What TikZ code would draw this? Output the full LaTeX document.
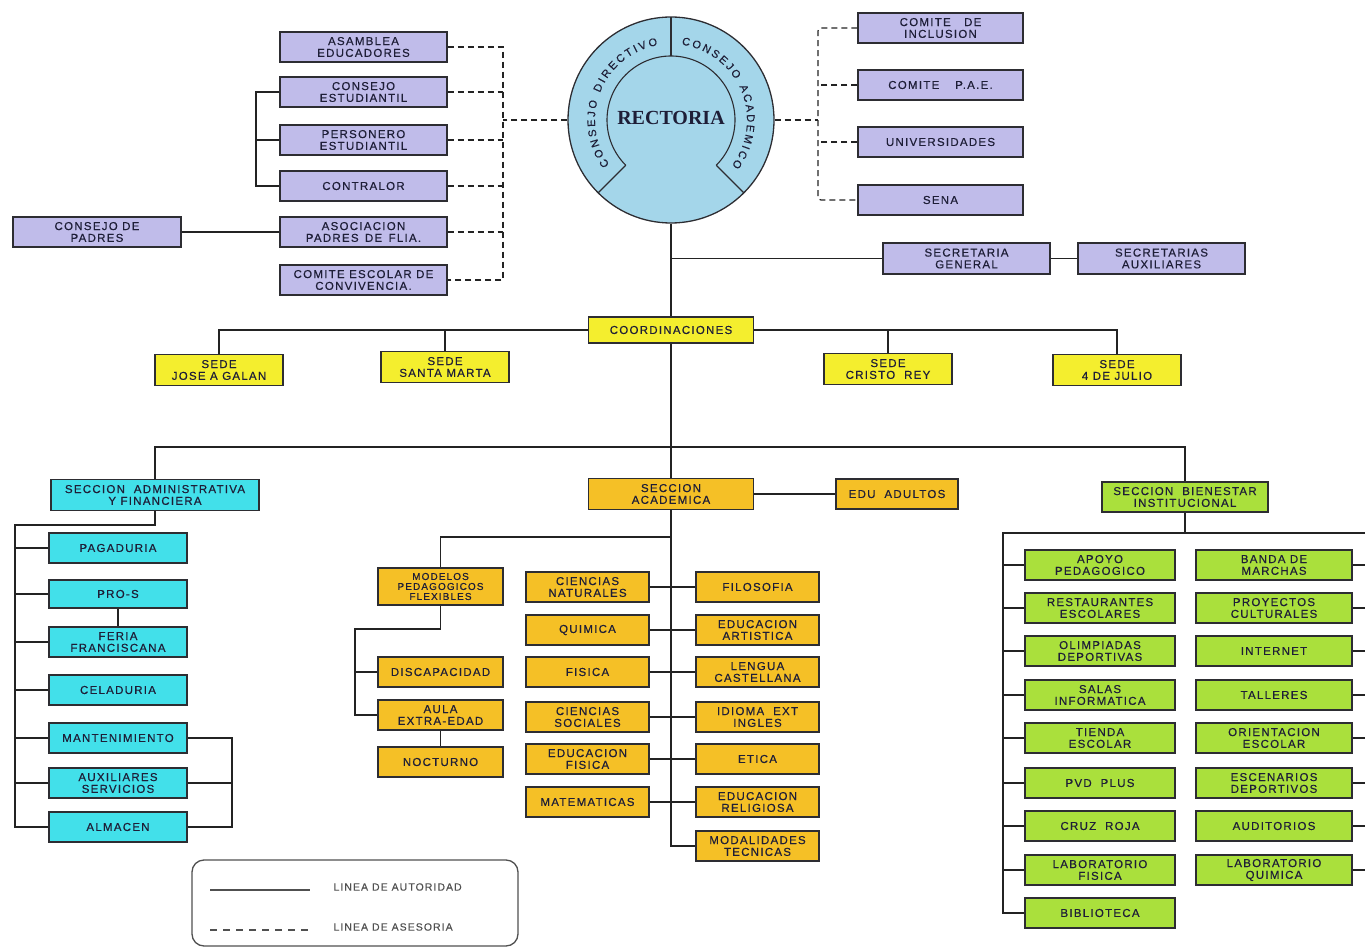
\documentclass[tikz,border=0pt]{standalone}
\usepackage{fontspec}
\setmainfont{Liberation Sans}
\newfontfamily\boxfont[LetterSpace=11,FakeBold=0.4]{Liberation Sans}
\newfontfamily\ringfont[LetterSpace=6,FakeBold=0.3]{Liberation Sans}
\newfontfamily\legfont[LetterSpace=10,FakeBold=0.2]{Liberation Sans}
\newfontfamily\headfont{Liberation Serif}
\usetikzlibrary{decorations.text}

\definecolor{cEdge}{RGB}{45,45,50}
\definecolor{cInk}{RGB}{30,30,55}
\definecolor{cWire}{RGB}{35,35,35}
\definecolor{cLav}{RGB}{192,188,234}
\definecolor{cSky}{RGB}{164,214,234}
\definecolor{cLemon}{RGB}{244,238,46}
\definecolor{cAqua}{RGB}{66,224,234}
\definecolor{cAmber}{RGB}{245,192,38}
\definecolor{cLeaf}{RGB}{170,224,60}
\definecolor{cFrame}{RGB}{80,80,80}

\begin{document}
\begin{tikzpicture}[x=1pt,y=-1pt,
  box/.style={draw=cEdge, line width=1.3pt, inner sep=1pt, align=center, text=cInk,
              font=\boxfont\fontsize{11.5}{11.8}\selectfont},
  sz/.style 2 args={minimum width=#1, minimum height=#2},
  council/.style={box, fill=cLav, sz={167}{30}},
  campus/.style={box, fill=cLemon, sz={128}{31}},
  admin/.style={box, fill=cAqua, sz={138}{30}},
  acad/.style={box, fill=cAmber, sz={123}{30}},
  welfare/.style={box, fill=cLeaf, sz={150}{30}},
  auth/.style={draw=cWire, line width=1.2pt},
  adv/.style={draw=cWire, line width=1.2pt, dash pattern=on 6pt off 4pt},
  legendtext/.style={anchor=west, text=cFrame, font=\legfont\fontsize{10.5}{11}\selectfont},
]
\useasboundingbox (0,0) rectangle (1365,949);

% ---------- rectory ----------
\node[circle, draw=cEdge, line width=1.3pt, fill=cSky, minimum size=206, inner sep=0] (rect) at (671,120) {};
\node[text=cInk, font=\headfont\bfseries\fontsize{20}{20}\selectfont] (rtxt) at (671,118) {RECTORIA};
\begin{scope}[shift={(rect.center)}, y=1pt, draw=cEdge, line width=1.1pt]
  \draw (225:64) arc[start angle=225, end angle=-45, radius=64];
  \draw (225:64) -- (225:103);
  \draw (-45:64) -- (-45:103);
  \draw (90:64) -- (90:103);
  \path[decorate, decoration={text along path, text color=cInk, text align=fit to path,
        text={|\ringfont\fontsize{11}{11}\selectfont|CONSEJO DIRECTIVO}}]
        (216:76) arc[start angle=216, end angle=100, radius=76];
  \path[decorate, decoration={text along path, text color=cInk, text align=fit to path,
        text={|\ringfont\fontsize{11}{11}\selectfont|CONSEJO ACADEMICO}}]
        (82:76) arc[start angle=82, end angle=-37, radius=76];
\end{scope}

% ---------- advisory bodies, left ----------
\node[council] (asam)  at (363.5,47)  {ASAMBLEA\\EDUCADORES};
\node[council] (cest)  at (363.5,92)  {CONSEJO\\ESTUDIANTIL};
\node[council] (pers)  at (363.5,140) {PERSONERO\\ESTUDIANTIL};
\node[council] (contr) at (363.5,186) {CONTRALOR};
\node[council] (asoc)  at (363.5,232) {ASOCIACION\\PADRES \,DE \,FLIA.};
\node[council] (cesc)  at (363.5,280) {COMITE ESCOLAR DE\\CONVIVENCIA.};
\node[council, sz={168}{30}] (cpad) at (97,232) {CONSEJO DE\\PADRES};

% ---------- advisory bodies, right ----------
\node[council, sz={165}{30}] (incl) at (940.5,28)  {COMITE \ \ DE\\INCLUSION};
\node[council, sz={165}{30}] (pae)  at (940.5,85)  {COMITE \quad P.A.E.};
\node[council, sz={165}{30}] (univ) at (940.5,142) {UNIVERSIDADES};
\node[council, sz={165}{30}] (sena) at (940.5,200) {SENA};

% ---------- secretaries ----------
\node[council, sz={167}{31}] (sgen) at (966.5,258.5)  {SECRETARIA\\GENERAL};
\node[council, sz={167}{31}] (saux) at (1161.5,258.5) {SECRETARIAS\\AUXILIARES};

% ---------- coordination and campuses ----------
\node[campus, sz={165}{26}] (coord) at (671,330) {COORDINACIONES};
\node[campus] (jose)   at (219,370)  {SEDE\\JOSE A GALAN};
\node[campus] (santa)  at (445,367)  {SEDE\\SANTA MARTA};
\node[campus] (cristo) at (888,369)  {SEDE\\CRISTO \ REY};
\node[campus] (julio)  at (1117,370) {SEDE\\4 DE JULIO};

% ---------- sections ----------
\node[admin, sz={208}{31}] (sadm) at (155,495) {SECCION \ ADMINISTRATIVA\\Y FINANCIERA};
\node[acad, sz={165}{31}] (sacad) at (671,494) {SECCION\\ACADEMICA};
\node[acad, sz={122}{30}] (edu) at (897,494) {EDU \ ADULTOS};
\node[welfare, sz={166}{30}] (sbien) at (1185,497) {SECCION \ BIENESTAR\\INSTITUCIONAL};

% ---------- administrative section ----------
\node[admin] (pag)   at (118,548) {PAGADURIA};
\node[admin, sz={138}{28}] (pros) at (118,594) {PRO-S};
\node[admin] (feria) at (118,642) {FERIA\\FRANCISCANA};
\node[admin] (cela)  at (118,690) {CELADURIA};
\node[admin] (mant)  at (118,738) {MANTENIMIENTO};
\node[admin] (auxs)  at (118,783) {AUXILIARES\\SERVICIOS};
\node[admin] (alma)  at (118,827) {ALMACEN};

% ---------- academic section ----------
\node[acad, sz={125}{37}, font=\boxfont\fontsize{10}{10}\selectfont] (model) at (440.5,586.5) {MODELOS\\PEDAGOGICOS\\FLEXIBLES};
\node[acad, sz={125}{30}] (disc) at (440.5,672) {DISCAPACIDAD};
\node[acad, sz={125}{30}] (aula) at (440.5,715) {AULA\\EXTRA-EDAD};
\node[acad, sz={125}{30}] (noct) at (440.5,762) {NOCTURNO};

\node[acad] (cnat) at (587.5,587) {CIENCIAS\\NATURALES};
\node[acad] (quim) at (587.5,630) {QUIMICA};
\node[acad] (fis)  at (587.5,672) {FISICA};
\node[acad] (csoc) at (587.5,717) {CIENCIAS\\SOCIALES};
\node[acad] (efis) at (587.5,759) {EDUCACION\\FISICA};
\node[acad] (mate) at (587.5,802) {MATEMATICAS};

\node[acad] (filo) at (757.5,587) {FILOSOFIA};
\node[acad] (eart) at (757.5,630) {EDUCACION\\ARTISTICA};
\node[acad] (leng) at (757.5,672) {LENGUA\\CASTELLANA};
\node[acad] (idio) at (757.5,717) {IDIOMA \ EXT\\INGLES};
\node[acad] (etic) at (757.5,759) {ETICA};
\node[acad] (erel) at (757.5,802) {EDUCACION\\RELIGIOSA};
\node[acad] (modt) at (757.5,846) {MODALIDADES\\TECNICAS};

% ---------- welfare section ----------
\node[welfare] (apoy) at (1100,565) {APOYO\\PEDAGOGICO};
\node[welfare] (rest) at (1100,608) {RESTAURANTES\\ESCOLARES};
\node[welfare] (olim) at (1100,651) {OLIMPIADAS\\DEPORTIVAS};
\node[welfare] (sala) at (1100,695) {SALAS\\INFORMATICA};
\node[welfare] (tien) at (1100,738) {TIENDA\\ESCOLAR};
\node[welfare] (pvd)  at (1100,783) {PVD \ PLUS};
\node[welfare] (cruz) at (1100,826) {CRUZ \ ROJA};
\node[welfare] (lfis) at (1100,870) {LABORATORIO\\FISICA};
\node[welfare] (bibl) at (1100,913) {BIBLIOTECA};

\node[welfare, sz={156}{30}] (band) at (1274,565) {BANDA DE\\MARCHAS};
\node[welfare, sz={156}{30}] (proy) at (1274,608) {PROYECTOS\\CULTURALES};
\node[welfare, sz={156}{30}] (inet) at (1274,651) {INTERNET};
\node[welfare, sz={156}{30}] (tall) at (1274,695) {TALLERES};
\node[welfare, sz={156}{30}] (orie) at (1274,738) {ORIENTACION\\ESCOLAR};
\node[welfare, sz={156}{30}] (esce) at (1274,783) {ESCENARIOS\\DEPORTIVOS};
\node[welfare, sz={156}{30}] (audi) at (1274,826) {AUDITORIOS};
\node[welfare, sz={156}{30}] (lqui) at (1274,870) {LABORATORIO\\QUIMICA};

% ---------- helper coordinates ----------
\coordinate (lbus) at (503,47);
\coordinate (rbus) at (818,28);
\coordinate (sbus) at (256,92);
\coordinate (hbar) at (671,447);
\coordinate (admL) at (15,525);
\coordinate (admR) at (232,738);
\coordinate (acBr) at (671,537);
\coordinate (modL) at (355,629);
\coordinate (wfL)  at (1003,533);
\coordinate (wfR)  at (1365,533);

% ---------- advisory lines ----------
\draw[adv] (asam.east) -| (lbus |- cesc.east) -- (cesc.east);
\foreach \n in {cest,pers,contr,asoc} \draw[adv] (\n.east) -- (\n.east -| lbus);
\draw[adv] (rect.west) -- (rect.west -| lbus);
\draw[adv, rounded corners=3] (incl.west) -| (rbus |- sena.west) -- (sena.west);
\foreach \n in {pae,univ} \draw[adv] (\n.west) -- (\n.west -| rbus);
\draw[adv] (rect.east) -- (rect.east -| rbus);

% ---------- authority lines, top ----------
\draw[auth] (cest.west) -| (sbus |- contr.west) -- (contr.west);
\draw[auth] (pers.west) -- (pers.west -| sbus);
\draw[auth] (cpad.east) -- (asoc.west);
\draw[auth] (rect.south) -- (coord.north);
\draw[auth] (sgen.west -| rect.south) -- (sgen.west);
\draw[auth] (sgen.east) -- (saux.west);
\draw[auth] (jose.north) |- (coord.west);
\draw[auth] (santa.north) -- (santa.north |- coord.west);
\draw[auth] (julio.north) |- (coord.east);
\draw[auth] (cristo.north) -- (cristo.north |- coord.east);
\draw[auth] (coord.south) -- (sacad.north);
\draw[auth] (sadm.north) |- (hbar) -| (sbien.north);

% ---------- administrative lines ----------
\draw[auth] (sadm.south) |- (admL) |- (alma.west);
\foreach \n in {pag,pros,feria,cela,mant,auxs} \draw[auth] (\n.west) -- (\n.west -| admL);
\draw[auth] (pros.south) -- (feria.north);
\draw[auth] (mant.east) -- (admR) -- (admR |- alma.east) -- (alma.east);
\draw[auth] (auxs.east) -- (auxs.east -| admR);

% ---------- academic lines ----------
\draw[auth] (sacad.east) -- (edu.west);
\draw[auth] (sacad.south) |- (modt.west);
\draw[auth] (acBr) -| (model.north);
\draw[auth] (model.south) |- (modL) |- (aula.west);
\draw[auth] (disc.west) -- (disc.west -| modL);
\draw[auth] (aula.south) -- (noct.north);
\draw[auth] (cnat.east) -- (filo.west);
\draw[auth] (quim.east) -- (eart.west);
\draw[auth] (fis.east)  -- (leng.west);
\draw[auth] (csoc.east) -- (idio.west);
\draw[auth] (efis.east) -- (etic.west);
\draw[auth] (mate.east) -- (erel.west);

% ---------- welfare lines ----------
\draw[auth] (sbien.south) -- (sbien.south |- wfL);
\draw[auth] (wfR) -- (wfL) |- (bibl.west);
\foreach \n in {apoy,rest,olim,sala,tien,pvd,cruz,lfis} \draw[auth] (\n.west) -- (\n.west -| wfL);
\foreach \n in {band,proy,inet,tall,orie,esce,audi,lqui} \draw[auth] (\n.east) -- (\n.east -| wfR);

% ---------- legend ----------
\draw[draw=cFrame, line width=1.3pt, rounded corners=12] (192,860) rectangle (518,946);
\coordinate (la1) at (210,890); \coordinate (la2) at (310,890);
\coordinate (lb1) at (210,930); \coordinate (lb2) at (310,930);
\draw[draw=cFrame, line width=1.2pt] (la1) -- (la2);
\draw[draw=cFrame, line width=1.2pt, dash pattern=on 7pt off 6pt] (lb1) -- (lb2);
\node[legendtext] (lta) at (330,887) {LINEA DE AUTORIDAD};
\node[legendtext] (ltb) at (330,927) {LINEA DE ASESORIA};
\end{tikzpicture}
\end{document}
